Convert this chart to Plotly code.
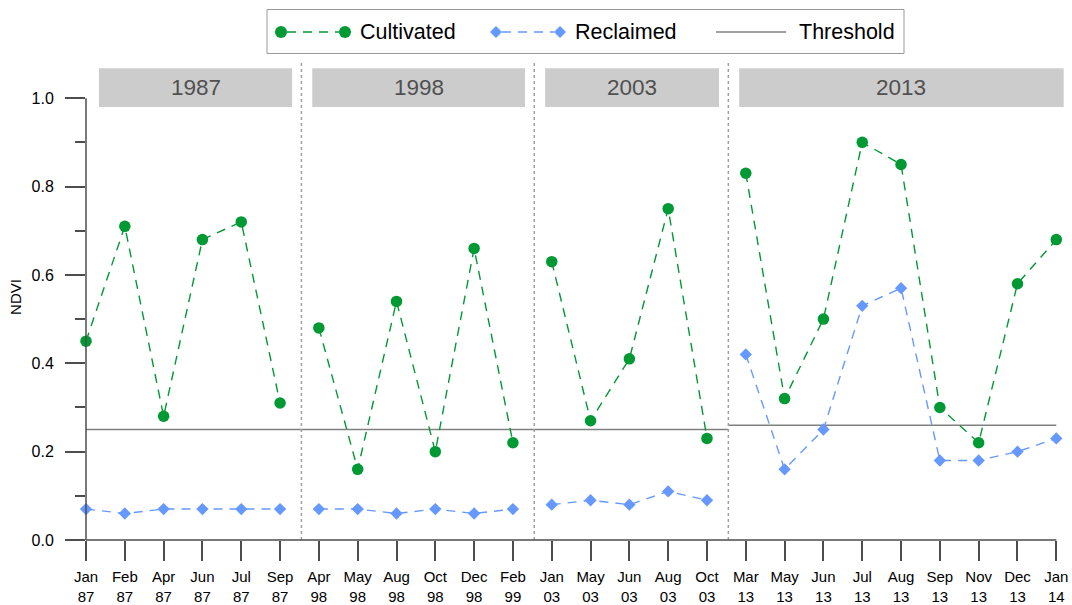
import plotly.graph_objects as go

# ---- data -------------------------------------------------------------
periods = ["1987", "1998", "2003", "2013"]
months = [
    ["Jan", "Feb", "Apr", "Jun", "Jul", "Sep"],
    ["Apr", "May", "Aug", "Oct", "Dec", "Feb"],
    ["Jan", "May", "Jun", "Aug", "Oct"],
    ["Mar", "May", "Jun", "Jul", "Aug", "Sep", "Nov", "Dec", "Jan"],
]
years = [
    ["87", "87", "87", "87", "87", "87"],
    ["98", "98", "98", "98", "98", "99"],
    ["03", "03", "03", "03", "03"],
    ["13", "13", "13", "13", "13", "13", "13", "13", "14"],
]
cultivated = [
    [0.45, 0.71, 0.28, 0.68, 0.72, 0.31],
    [0.48, 0.16, 0.54, 0.20, 0.66, 0.22],
    [0.63, 0.27, 0.41, 0.75, 0.23],
    [0.83, 0.32, 0.50, 0.90, 0.85, 0.30, 0.22, 0.58, 0.68],
]
reclaimed = [
    [0.07, 0.06, 0.07, 0.07, 0.07, 0.07],
    [0.07, 0.07, 0.06, 0.07, 0.06, 0.07],
    [0.08, 0.09, 0.08, 0.11, 0.09],
    [0.42, 0.16, 0.25, 0.53, 0.57, 0.18, 0.18, 0.20, 0.23],
]
threshold = [0.25, 0.25, 0.25, 0.26]
series_names = ["Cultivated", "Reclaimed", "Threshold"]
y_ticks = [0.0, 0.2, 0.4, 0.6, 0.8, 1.0]
y_minor = [0.1, 0.3, 0.5, 0.7, 0.9]

# ---- styling ----------------------------------------------------------
FONT = "Liberation Sans, Arial, sans-serif"
GREEN = "#009933"
BLUE = "#6699FF"
GREY_LINE = "#808080"
AXIS = "#4d4d4d"
DASH = "9px,7px"
W, H = 1072, 605
M = dict(l=86, r=6, t=54, b=65)
X_RANGE = [0, 25.25]
Y_RANGE = [0, 1.1]
SEP_OFFSET = 0.55      # period separator sits just after the last date
STRIP_Y = (0.980, 1.068)

# ---- positions on the categorical index axis --------------------------
idx, start = [], 0
for m in months:
    idx.append(list(range(start, start + len(m))))
    start += len(m)
n_total = start
last = n_total - 1
seps = [grp[-1] + SEP_OFFSET for grp in idx[:-1]]
bounds = [0] + seps + [last]


def broken(groups_x, groups_y):
    xs, ys = [], []
    for gx, gy in zip(groups_x, groups_y):
        xs += list(gx) + [None]
        ys += list(gy) + [None]
    return xs, ys


fig = go.Figure()

cx, cy = broken(idx, cultivated)
rx, ry = broken(idx, reclaimed)
tx, ty = broken([[bounds[i], bounds[i + 1]] for i in range(len(periods))],
                [[t, t] for t in threshold])

fig.add_trace(go.Scatter(
    x=tx, y=ty, name=series_names[2], mode="lines",
    line=dict(color=GREY_LINE, width=1.5), showlegend=False))
fig.add_trace(go.Scatter(
    x=rx, y=ry, name=series_names[1], mode="lines+markers",
    line=dict(color=BLUE, width=1.4, dash=DASH),
    marker=dict(symbol="diamond", size=9.5, color=BLUE),
    cliponaxis=False, showlegend=False))
fig.add_trace(go.Scatter(
    x=cx, y=cy, name=series_names[0], mode="lines+markers",
    line=dict(color=GREEN, width=1.4, dash=DASH),
    marker=dict(symbol="circle", size=11.5, color=GREEN),
    cliponaxis=False, showlegend=False))

# period separators, strips and strip labels
shapes, annotations = [], []
for s in seps:
    shapes.append(dict(type="line", xref="x", yref="y", x0=s, x1=s,
                       y0=0, y1=1.08, line=dict(color="#a0a0a0", width=1.5,
                                                dash="dot")))
strip_left = [0.335] + [s + 0.28 for s in seps]
strip_right = [s - 0.24 for s in seps] + [last + 0.19]
for lab, a, b in zip(periods, strip_left, strip_right):
    shapes.append(dict(type="rect", xref="x", yref="y", x0=a, x1=b,
                       y0=STRIP_Y[0], y1=STRIP_Y[1], fillcolor="#cccccc",
                       line=dict(width=0), layer="below"))
    annotations.append(dict(x=(a + b) / 2, y=sum(STRIP_Y) / 2, xref="x",
                            yref="y", text=lab, showarrow=False,
                            font=dict(family=FONT, size=22.5, color="#505050")))


# helpers from axis values / pixels to paper coordinates
def xp(v):
    return (v - X_RANGE[0]) / (X_RANGE[1] - X_RANGE[0])


def yp(v):
    return (v - Y_RANGE[0]) / (Y_RANGE[1] - Y_RANGE[0])


PW = W - M["l"] - M["r"]
PH = H - M["t"] - M["b"]


def px_x(p):
    return (p - M["l"]) / PW


def px_y(p):
    return (H - M["b"] - p) / PH


# axis lines drawn from first to last tick
shapes.append(dict(type="line", xref="paper", yref="paper", x0=0, x1=0,
                   y0=yp(y_ticks[0]), y1=yp(y_ticks[-1]),
                   line=dict(color=AXIS, width=1.5)))
shapes.append(dict(type="line", xref="paper", yref="paper", x0=xp(0),
                   x1=xp(last), y0=0, y1=0,
                   line=dict(color=AXIS, width=1.5)))

# ---- legend box (markers at both ends of each key) --------------------
LEG_Y = 32
shapes.append(dict(type="rect", xref="paper", yref="paper",
                   x0=px_x(267), x1=px_x(904), y0=px_y(9.5), y1=px_y(53.5),
                   line=dict(color="#999999", width=1), fillcolor="white"))


def leg_circle(cx_px, r=6):
    return dict(type="circle", xref="paper", yref="paper",
                x0=px_x(cx_px - r), x1=px_x(cx_px + r),
                y0=px_y(LEG_Y + r), y1=px_y(LEG_Y - r),
                fillcolor=GREEN, line=dict(width=0))


def leg_diamond(cx_px, r=6):
    pts = [(cx_px, LEG_Y - r), (cx_px + r, LEG_Y), (cx_px, LEG_Y + r),
           (cx_px - r, LEG_Y)]
    path = "M " + " L ".join(f"{px_x(a):.5f},{px_y(b):.5f}" for a, b in pts)
    return dict(type="path", xref="paper", yref="paper", path=path + " Z",
                fillcolor=BLUE, line=dict(width=0))


def leg_line(x0, x1, color, dash):
    return dict(type="line", xref="paper", yref="paper",
                x0=px_x(x0), x1=px_x(x1), y0=px_y(LEG_Y), y1=px_y(LEG_Y),
                line=dict(color=color, width=1.4, dash=dash))


legend_keys = [(281, GREEN, "9px,7px", leg_circle),
               (496, BLUE, "9px,7px", leg_diamond),
               (716, GREY_LINE, "solid", None)]
for (x_left, color, dash, mk), name in zip(legend_keys, series_names):
    x_right = x_left + (64 if mk else 70)
    if mk:
        shapes.append(leg_line(x_left + 6, x_right - 6, color, dash))
        shapes.append(mk(x_left))
        shapes.append(mk(x_right))
        tx_start = x_right + 13
    else:
        shapes.append(leg_line(x_left, x_right, color, dash))
        tx_start = x_right + 11
    annotations.append(dict(x=px_x(tx_start), y=px_y(LEG_Y), xref="paper",
                            yref="paper", xanchor="left", yanchor="middle",
                            text=name, showarrow=False,
                            font=dict(family=FONT, size=21.5, color="black")))

tick_text = [f"{m}<br>{y}" for mg, yg in zip(months, years)
             for m, y in zip(mg, yg)]

fig.update_layout(
    width=W, height=H,
    margin=M,
    paper_bgcolor="white", plot_bgcolor="white",
    font=dict(family=FONT, color="black"),
    shapes=shapes, annotations=annotations,
    showlegend=False,
    xaxis=dict(range=X_RANGE, tickmode="array",
               tickvals=list(range(n_total)), ticktext=tick_text,
               ticks="outside", ticklen=20, tickwidth=1.5, tickcolor=AXIS,
               showline=False, showgrid=False, zeroline=False,
               automargin=False,
               tickfont=dict(family=FONT, size=15, color="black"),
               ticklabelstandoff=3),
    yaxis=dict(range=Y_RANGE, tickmode="array", tickvals=y_ticks,
               ticktext=[f"{v:.1f}" for v in y_ticks],
               ticks="outside", ticklen=20, tickwidth=1.5, tickcolor=AXIS,
               minor=dict(tickvals=y_minor, ticks="outside", ticklen=10,
                          tickwidth=1.5, tickcolor=AXIS, showgrid=False),
               showline=False, showgrid=False, zeroline=False,
               automargin=False,
               tickfont=dict(family=FONT, size=16, color="black"),
               ticklabelstandoff=8,
               title=dict(text="NDVI", font=dict(family=FONT, size=15),
                          standoff=6)),
)

fig.write_html("out.html")
